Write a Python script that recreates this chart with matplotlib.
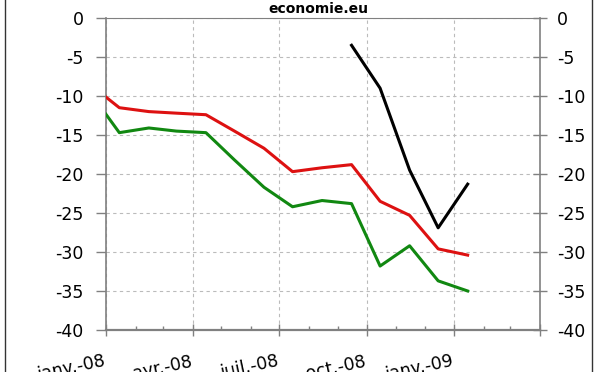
import numpy as np
import pandas as pd
import matplotlib
matplotlib.use("Agg")
import matplotlib.pyplot as plt
import matplotlib.dates as mdates
from matplotlib.patches import Rectangle

plt.rcParams['font.family'] = ['DejaVu Sans']
plt.rcParams['axes.unicode_minus'] = False

# données mensuelles (mi-mois)
dates = pd.date_range("2007-12-01", "2009-01-01", freq="MS") + pd.Timedelta(days=14)
rouge = [-8.5, -11.5, -12.0, -12.2, -12.4, -14.5, -16.7, -19.7, -19.2, -18.8,
         -23.5, -25.3, -29.6, -30.4]
vert = [-9.5, -14.7, -14.1, -14.5, -14.7, -18.2, -21.7, -24.2, -23.4, -23.8,
        -31.8, -29.2, -33.7, -35.0]
dates_noir = pd.date_range("2008-09-01", "2009-01-01", freq="MS") + pd.Timedelta(days=14)
noir = [-3.5, -9.0, -19.5, -26.9, -21.3]

ticks_x = pd.to_datetime(["2008-01-01", "2008-04-01", "2008-07-01", "2008-10-01",
                          "2009-01-01", "2009-04-01"])
labels_x = ["janv.-08", "avr.-08", "juil.-08", "oct.-08", "janv.-09", ""]
ticks_y = np.arange(-40, 1, 5)

fig = plt.figure(figsize=(6, 3.72), dpi=100)
ax = fig.add_axes([106 / 600, 42 / 372, 434 / 600, 312 / 372])

ax.plot(dates, rouge, color='#dd1111', lw=2.2, zorder=3)
ax.plot(dates, vert, color='#118811', lw=2.2, zorder=3)
ax.plot(dates_noir, noir, color='black', lw=2.2, zorder=3)

ax.set_xlim(ticks_x[0], ticks_x[-1])
ax.set_ylim(-40, 0)
ax.set_yticks(ticks_y)
ax.set_xticks(ticks_x)
ax.xaxis.set_minor_locator(mdates.MonthLocator())
ax.set_xticklabels(labels_x, rotation=12, ha='right', va='baseline',
                   rotation_mode='anchor', fontsize=12.5)

ax.grid(True, which='major', color='#bbbbbb', linestyle=(0, (3, 3)), lw=0.8)
for s in ax.spines.values():
    s.set_color('#808080')
ax.spines['bottom'].set_linewidth(1.6)
ax.spines['left'].set_linewidth(1.2)
ax.spines['right'].set_linewidth(1.2)
ax.spines['top'].set_linewidth(0.8)

ax.tick_params(axis='y', direction='out', length=7, color='#808080', width=1,
               labelsize=12.5, pad=9)
ax.tick_params(axis='x', which='major', direction='inout', length=8,
               color='#808080', width=1, pad=22)
ax.tick_params(axis='x', which='minor', direction='in', length=3,
               color='#808080', width=1)

ax2 = ax.twinx()
ax2.set_ylim(-40, 0)
ax2.set_yticks(ticks_y)
ax2.tick_params(axis='y', direction='inout', length=10, color='#808080',
                width=1, labelsize=12.5, pad=7)
for s in ax2.spines.values():
    s.set_visible(False)

fig.text(0.53, 0.976, "economie.eu", ha='center', va='center', fontsize=10,
         fontweight='bold')

# cadre de la figure
fig.patches.append(Rectangle((5 / 600, -0.05), 587 / 600, 1.1, transform=fig.transFigure,
                             fill=False, edgecolor='#333333', lw=1))

fig.savefig("out.png", dpi=100)
